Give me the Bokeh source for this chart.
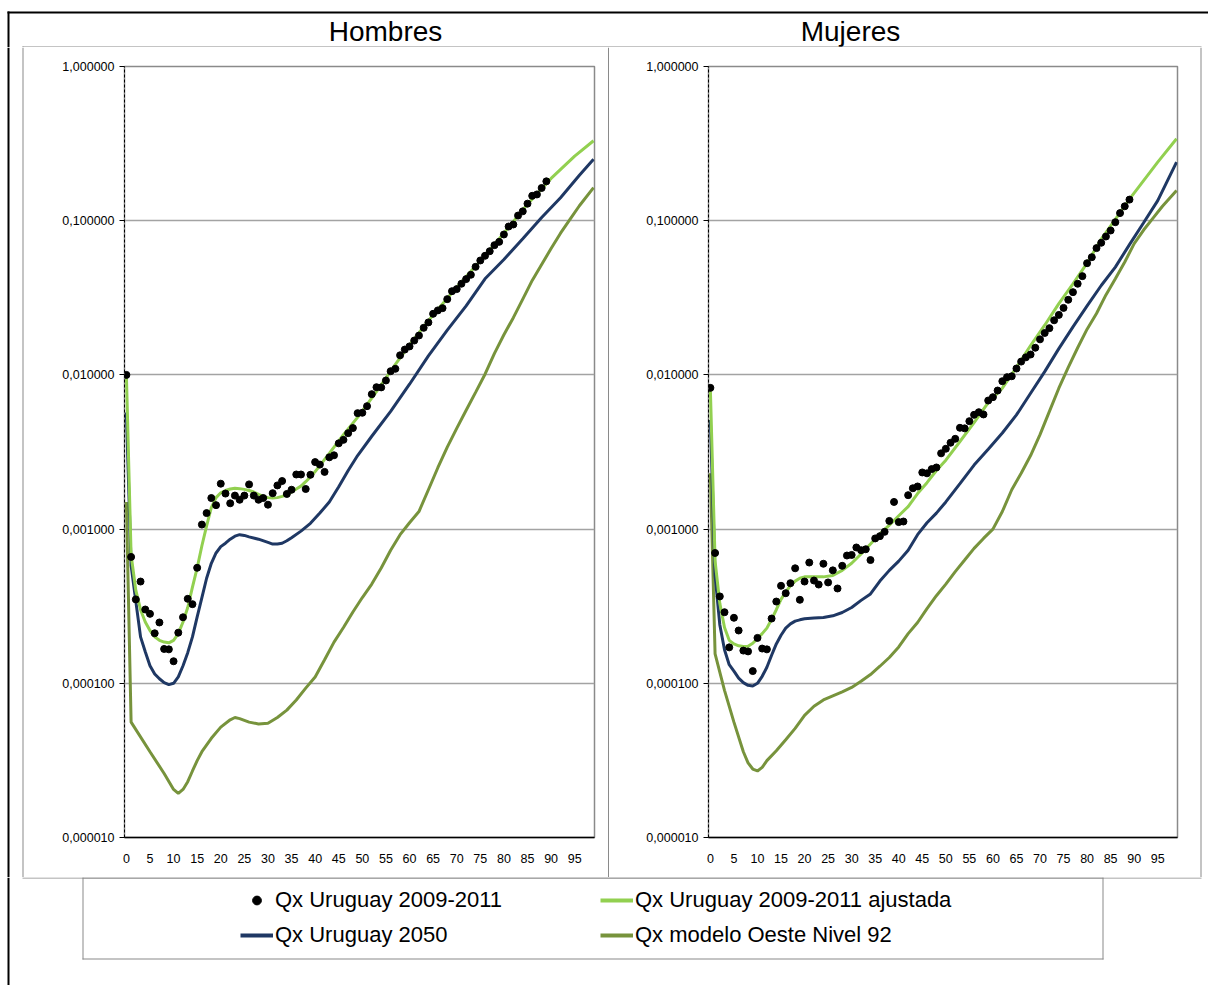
from bokeh.plotting import figure
from bokeh.models import (Range1d, FixedTicker, CustomJSTickFormatter, BoxAnnotation,
                          Label, Legend, LegendItem)
from bokeh.layouts import column, row
from bokeh.embed import file_html
from bokeh.resources import INLINE

# ---------------------------------------------------------------- data
# Observed q(x), Uruguay 2009-2011, ages 0..89
obs_ages = list(range(0, 90))
hombres_obs = [
    0.0100, 0.00066, 0.00035, 0.000457, 0.000301, 0.000282, 0.000211, 0.000248, 0.000167, 0.000166,
    0.000139, 0.000213, 0.000268, 0.000353, 0.000326, 0.000561, 0.00107, 0.00127, 0.00159, 0.00143,
    0.00197, 0.00170, 0.00147, 0.00165, 0.00155, 0.00165, 0.00195, 0.00165, 0.00155, 0.00159,
    0.00144, 0.00171, 0.00192, 0.00205, 0.00169, 0.00180, 0.00226, 0.00226, 0.00182, 0.00225,
    0.00272, 0.00262, 0.00235, 0.00292, 0.00301, 0.00360, 0.00379, 0.00419, 0.00452, 0.00565,
    0.00568, 0.00627, 0.00750, 0.00832, 0.00830, 0.00920, 0.01057, 0.01095, 0.0134, 0.0146,
    0.0153, 0.0167, 0.0180, 0.0202, 0.0219, 0.0249, 0.0262, 0.0271, 0.0310, 0.0349,
    0.0360, 0.0390, 0.0418, 0.0446, 0.0502, 0.0552, 0.0592, 0.0634, 0.0694, 0.0729,
    0.0814, 0.0917, 0.0945, 0.108, 0.115, 0.129, 0.145, 0.148, 0.163, 0.180,
]
mujeres_obs = [
    0.00824, 0.00070, 0.000366, 0.000289, 0.000171, 0.000266, 0.000220, 0.000163, 0.000161, 0.000120,
    0.000197, 0.000168, 0.000166, 0.000263, 0.000339, 0.000429, 0.000384, 0.000446, 0.000557, 0.000348,
    0.000457, 0.000607, 0.000464, 0.000437, 0.000596, 0.000451, 0.000540, 0.000412, 0.000578, 0.000674,
    0.00068, 0.00076, 0.00073, 0.00074, 0.00063, 0.00087, 0.00090, 0.00096, 0.00113, 0.00150,
    0.00111, 0.00112, 0.00166, 0.00184, 0.00189, 0.00233, 0.00230, 0.00245, 0.00251, 0.00310,
    0.00332, 0.00363, 0.00385, 0.00454, 0.00450, 0.00501, 0.00551, 0.00573, 0.00554, 0.00682,
    0.00717, 0.00792, 0.00910, 0.00967, 0.00980, 0.0110, 0.0122, 0.0130, 0.01356, 0.0150,
    0.0170, 0.0187, 0.0201, 0.0226, 0.0245, 0.0272, 0.0307, 0.0344, 0.0390, 0.0437,
    0.0530, 0.0580, 0.0664, 0.0719, 0.0790, 0.0864, 0.0978, 0.112, 0.124, 0.137,
]

# Graduated q(x), Uruguay 2009-2011
hombres_fit_ages = [0, 1, 2, 3, 4, 5, 6, 7, 8, 9, 10, 11, 12, 13, 14, 15, 16, 17, 18, 19, 20, 21, 22, 23,
                    24, 25, 26, 27, 28, 29, 30, 31, 32, 33, 34, 35, 36, 37, 38, 39, 40, 43, 46, 49, 53,
                    57, 61, 65, 70, 75, 80, 85, 90, 95, 99]
hombres_fit = [0.0100, 0.00068, 0.00040, 0.00030, 0.00025, 0.00022, 0.00020, 0.00019, 0.000185, 0.000183,
               0.00019, 0.00021, 0.00025, 0.00031, 0.00042, 0.00056, 0.00078, 0.00105, 0.00138, 0.0016,
               0.00172, 0.00178, 0.00182, 0.00184, 0.00183, 0.00181, 0.00178, 0.00174, 0.00168, 0.00163,
               0.0016, 0.00159, 0.0016, 0.00163, 0.00167, 0.00174, 0.00182, 0.0019, 0.00203, 0.00218,
               0.00236, 0.0031, 0.0041, 0.0053, 0.0078, 0.0117, 0.0172, 0.0245, 0.037, 0.055,
               0.083, 0.128, 0.188, 0.262, 0.33]
mujeres_fit_ages = [0, 1, 2, 3, 4, 5, 6, 7, 8, 9, 10, 11, 12, 13, 14, 15, 16, 17, 18, 19, 20, 22, 24, 26,
                    28, 30, 32, 34, 36, 38, 40, 42, 44, 46, 48, 50, 53, 56, 59, 62, 65, 68, 71, 74, 77,
                    80, 83, 86, 89, 92, 95, 99]
mujeres_fit = [0.0080, 0.00062, 0.00033, 0.00023, 0.00019, 0.00018, 0.000175, 0.000173, 0.000174, 0.000182,
               0.000195, 0.00021, 0.000228, 0.00026, 0.0003, 0.00035, 0.00039, 0.00043, 0.00046, 0.00048,
               0.00049, 0.00049, 0.00049, 0.0005, 0.00054, 0.0006, 0.00069, 0.0008, 0.00093, 0.00106,
               0.00122, 0.0014, 0.0017, 0.002, 0.0024, 0.0028, 0.0037, 0.0049, 0.0066, 0.0082,
               0.0112, 0.0155, 0.021, 0.029, 0.039, 0.053, 0.076, 0.102, 0.138, 0.182, 0.24, 0.34]

# Projected q(x), Uruguay 2050
hombres_2050_ages = [0, 1, 2, 3, 4, 5, 6, 7, 8, 9, 10, 11, 12, 13, 14, 15, 16, 17, 18, 19, 20, 21, 22, 23,
                     24, 25, 26, 28, 30, 31, 32, 33, 34, 35, 37, 39, 41, 43, 45, 47, 49, 52, 56, 60, 64,
                     68, 72, 76, 80, 84, 88, 92, 96, 99]
hombres_2050 = [0.0057, 0.00058, 0.00034, 0.00020, 0.00016, 0.00013, 0.000115, 0.000107, 0.000101, 0.000098,
                0.0001, 0.00011, 0.00013, 0.000158, 0.0002, 0.00027, 0.00036, 0.00048, 0.0006, 0.0007,
                0.00077, 0.00081, 0.00086, 0.0009, 0.00092, 0.00091, 0.00089, 0.00086, 0.00082, 0.0008,
                0.0008, 0.00081, 0.00084, 0.00088, 0.00097, 0.00109, 0.00127, 0.0015, 0.00188, 0.0024,
                0.0030, 0.0040, 0.0058, 0.0087, 0.0133, 0.0195, 0.028, 0.042, 0.056, 0.0765,
                0.105, 0.141, 0.197, 0.25]
mujeres_2050_ages = mujeres_fit_ages
mujeres_2050 = [0.0051, 0.0005, 0.00024, 0.000165, 0.000132, 0.00012, 0.000108, 0.000101, 0.000097, 0.000096,
                0.0001, 0.000111, 0.000127, 0.000152, 0.00018, 0.000205, 0.000228, 0.000243, 0.000253, 0.000258,
                0.000262, 0.000265, 0.000267, 0.000274, 0.000288, 0.00031, 0.000345, 0.00038, 0.00046, 0.00054,
                0.00062, 0.00073, 0.00092, 0.0011, 0.00127, 0.0015, 0.00197, 0.0026, 0.0033, 0.0042,
                0.0055, 0.0076, 0.0105, 0.0148, 0.0205, 0.028, 0.038, 0.05, 0.07, 0.097, 0.135, 0.24]

# Model life table, West level 92
hombres_oeste_ages = [0, 1, 5, 8, 10, 11, 12, 13, 14, 15, 16, 18, 20, 22, 23, 24, 26, 28, 30, 32, 34, 36,
                      38, 40, 42, 44, 46, 48, 50, 52, 54, 56, 58, 60, 62, 64, 66, 68, 70, 72, 74, 76, 78,
                      80, 82, 84, 86, 88, 90, 92, 94, 96, 99]
hombres_oeste = [0.0015, 0.000056, 0.000036, 0.000026, 0.0000205, 0.0000193, 0.0000205, 0.000023, 0.000027,
                 0.0000315, 0.000036, 0.000044, 0.000052, 0.000058, 0.00006, 0.000059, 0.000056, 0.0000545,
                 0.000055, 0.00006, 0.000067, 0.000078, 0.000093, 0.00011, 0.000142, 0.000185, 0.00023,
                 0.00029, 0.00036, 0.00044, 0.00056, 0.00073, 0.00092, 0.0011, 0.0013, 0.0018, 0.0025,
                 0.0034, 0.0045, 0.0059, 0.0077, 0.0101, 0.0138, 0.0182, 0.0235, 0.031, 0.041, 0.052,
                 0.066, 0.083, 0.102, 0.125, 0.164]
mujeres_oeste_ages = [0, 1, 3, 5, 7, 8, 9, 10, 11, 12, 14, 16, 18, 20, 22, 24, 26, 28, 30, 32, 34, 36, 38,
                      40, 42, 44, 46, 48, 50, 52, 54, 56, 58, 60, 62, 64, 66, 68, 70, 72, 74, 76, 78, 80,
                      82, 84, 86, 88, 90, 92, 94, 96, 99]
mujeres_oeste = [0.0023, 0.000155, 0.00009, 0.000056, 0.000036, 0.0000305, 0.0000278, 0.000027, 0.0000285,
                 0.0000315, 0.0000365, 0.000043, 0.000051, 0.000062, 0.000071, 0.000078, 0.000083, 0.000088,
                 0.000094, 0.000103, 0.000114, 0.000129, 0.000147, 0.000172, 0.00021, 0.000248, 0.000305,
                 0.00037, 0.00044, 0.00053, 0.00063, 0.00075, 0.00087, 0.001, 0.0013, 0.0018, 0.0023,
                 0.003, 0.0041, 0.0058, 0.0082, 0.0112, 0.015, 0.0198, 0.025, 0.033, 0.042, 0.054,
                 0.071, 0.087, 0.104, 0.124, 0.157]

x_ticks = list(range(0, 100, 5))
y_ticks = [0.00001, 0.0001, 0.001, 0.01, 0.1, 1.0]

panel_titles = ["Hombres", "Mujeres"]
series_labels = ["Qx Uruguay 2009-2011", "Qx Uruguay 2009-2011 ajustada",
                 "Qx Uruguay 2050", "Qx modelo Oeste Nivel 92"]

# ---------------------------------------------------------------- style
FONT = "Liberation Sans"
GREEN = "#92D050"
NAVY = "#1F3864"
OLIVE = "#77933C"
GRAY = "#8a8a8a"
BODY_H = 830          # height of the row holding both panels


def blank(width, height):
    """Plain canvas whose frame fills it; used for boxes, rules and headings."""
    f = figure(width=width, height=height, x_range=Range1d(0, width), y_range=Range1d(height, 0),
               x_axis_location=None, y_axis_location=None, min_border=0,
               min_border_left=0, min_border_right=0, min_border_top=0, min_border_bottom=0,
               frame_align=False, output_backend="svg", toolbar_location=None)
    f.grid.visible = False
    f.outline_line_color = None
    f.background_fill_color = "white"
    f.border_fill_color = "white"
    return f


def rule(fig, left, right, top, bottom, color="black"):
    fig.add_layout(BoxAnnotation(left=left, right=right, top=top, bottom=bottom,
                                 left_units="canvas", right_units="canvas",
                                 top_units="canvas", bottom_units="canvas",
                                 fill_color=color, fill_alpha=1.0, line_alpha=0,
                                 level="overlay"))


def panel(width, b_left, b_right, obs, fit_a, fit, proj_a, proj, mod_a, mod):
    p = figure(width=width, height=BODY_H, y_axis_type="log",
               x_range=Range1d(-0.4, 99.2), y_range=Range1d(1e-5, 1),
               min_border_left=b_left, min_border_right=b_right,
               min_border_top=19, min_border_bottom=40, frame_align=False,
               output_backend="svg", toolbar_location=None)
    p.background_fill_color = "white"
    p.border_fill_color = "white"
    p.outline_line_color = GRAY
    p.outline_line_width = 1.5

    p.yaxis.ticker = FixedTicker(ticks=y_ticks)
    p.yaxis.formatter = CustomJSTickFormatter(code="return tick.toFixed(6).replace('.', ',');")
    p.yaxis.axis_line_color = "black"
    p.yaxis.axis_line_dash = "3 2"
    p.yaxis.major_tick_line_color = "black"
    p.yaxis.major_tick_out = 5
    p.yaxis.major_tick_in = 0
    p.yaxis.minor_tick_line_color = None
    p.yaxis.major_label_standoff = 5

    p.xaxis.ticker = FixedTicker(ticks=x_ticks)
    p.xaxis.axis_line_color = "black"
    p.xaxis.axis_line_width = 1.5
    p.xaxis.major_tick_line_color = None
    p.xaxis.minor_tick_line_color = None
    p.xaxis.major_label_standoff = 10
    for ax in (p.xaxis, p.yaxis):
        ax.major_label_text_font = FONT
        ax.major_label_text_font_size = "12.5px"
        ax.major_label_text_color = "black"

    p.xgrid.visible = False
    p.ygrid.ticker = FixedTicker(ticks=y_ticks)
    p.ygrid.grid_line_color = "#a3a3a3"
    p.ygrid.grid_line_width = 1.5

    p.line(mod_a, mod, line_color=OLIVE, line_width=3)
    p.line(proj_a, proj, line_color=NAVY, line_width=3)
    p.line(fit_a, fit, line_color=GREEN, line_width=3)
    p.scatter(obs_ages, obs, size=7, color="black")
    return p


# ---- heading strip (y 0..47)
head = blank(1208, 47)
rule(head, 7, 1208, 11, 13)                 # outer frame, top
rule(head, 7, 9, 11, 47)                    # outer frame, left
rule(head, 22, 1201, 46, 47, GRAY)          # chart boxes, top edges
rule(head, 22, 23, 46, 47, GRAY)
for name, cx in zip(panel_titles, (385, 850)):
    head.add_layout(Label(x=cx, y=31, x_units="canvas", y_units="canvas", text=name,
                          text_align="center", text_baseline="middle",
                          text_font=FONT, text_font_size="28px", text_color="black"))

# ---- body row (y 47..877)
strip_l = blank(30, BODY_H)
rule(strip_l, 7, 9, 0, BODY_H)
rule(strip_l, 22, 23, 0, BODY_H, GRAY)

left = panel(575, 94, 11, hombres_obs,
             hombres_fit_ages, hombres_fit, hombres_2050_ages, hombres_2050,
             hombres_oeste_ages, hombres_oeste)

divider = blank(6, BODY_H)
rule(divider, 2.5, 3.5, 0, BODY_H, GRAY)

right = panel(579, 97, 13, mujeres_obs,
              mujeres_fit_ages, mujeres_fit, mujeres_2050_ages, mujeres_2050,
              mujeres_oeste_ages, mujeres_oeste)

strip_r = blank(18, BODY_H)
rule(strip_r, 10, 11, 0, BODY_H, GRAY)

# ---- legend strip (y 877..985)
lg = blank(1208, 108)
r_obs = lg.scatter([-100], [-100], size=7, color="black")
r_fit = lg.line([-100, -90], [-100, -100], line_color=GREEN, line_width=4)
r_proj = lg.line([-100, -90], [-100, -100], line_color=NAVY, line_width=4)
r_mod = lg.line([-100, -90], [-100, -100], line_color=OLIVE, line_width=4)

rule(lg, 7, 9, 0, 108)
rule(lg, 22, 1201, 0, 1, GRAY)
rule(lg, 82, 1103, 0, 1, GRAY)
rule(lg, 82, 1103, 81, 82, GRAY)
rule(lg, 82, 83, 0, 82, GRAY)
rule(lg, 1102, 1103, 0, 82, GRAY)


def add_legend(items, loc):
    leg = Legend(items=items, location=loc, orientation="vertical",
                 label_text_font=FONT, label_text_font_size="22px", label_text_color="black",
                 glyph_width=33, glyph_height=22, label_height=22, label_standoff=2,
                 spacing=9, padding=0, margin=0,
                 border_line_alpha=0, background_fill_alpha=0)
    lg.add_layout(leg)


add_legend([LegendItem(label=series_labels[0], renderers=[r_obs]),
            LegendItem(label=series_labels[2], renderers=[r_proj])], (240, 37))
add_legend([LegendItem(label=series_labels[1], renderers=[r_fit]),
            LegendItem(label=series_labels[3], renderers=[r_mod])], (600, 37))

layout = column(head,
                row(strip_l, left, divider, right, strip_r, spacing=0),
                lg, spacing=0)

open("out.html", "w").write(file_html(layout, INLINE))
